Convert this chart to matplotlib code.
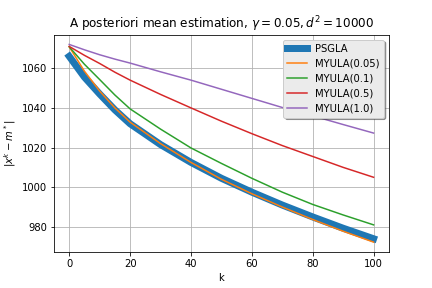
import numpy as np
import matplotlib
matplotlib.use("Agg")
import matplotlib.pyplot as plt

k = [0, 5, 10, 15, 20, 30, 40, 50, 60, 70, 80, 90, 100]

psgla = [1066.0, 1055.5, 1047.0, 1039.0, 1032.0, 1021.5, 1012.5, 1004.5,
         997.5, 991.0, 985.0, 979.3, 974.0]
myula_005 = [1070.8, 1058.5, 1048.5, 1040.0, 1032.8, 1022.0, 1012.5, 1004.0,
             996.7, 990.0, 983.7, 977.8, 972.3]
myula_01 = [1070.8, 1062.0, 1054.3, 1046.5, 1039.5, 1029.3, 1019.8, 1012.0,
            1004.5, 997.5, 991.3, 986.0, 981.0]
myula_05 = [1071.0, 1066.5, 1062.4, 1058.0, 1054.0, 1046.8, 1040.0, 1033.3,
            1027.0, 1021.0, 1015.5, 1010.0, 1005.0]
myula_10 = [1072.0, 1069.3, 1066.8, 1064.6, 1062.6, 1058.2, 1054.0, 1049.4,
            1044.8, 1040.2, 1036.0, 1031.6, 1027.3]

series = [
    ("MYULA(0.05)", myula_005),
    ("MYULA(0.1)", myula_01),
    ("MYULA(0.5)", myula_05),
    ("MYULA(1.0)", myula_10),
]

fig, ax = plt.subplots(figsize=(6, 4), dpi=72)
fig.subplots_adjust(bottom=0.125)

ax.plot(k, psgla, linewidth=7, label="PSGLA")
for name, vals in series:
    ax.plot(k, vals, linewidth=1.5, label=name)

ax.set_title(r"A posteriori mean estimation, $\gamma = 0.05, d^2 = 10000$")
ax.set_xlabel("k")
ax.set_ylabel(r"$|x^k - m^*|$")
ax.grid(True)
leg = ax.legend(loc="upper right", shadow=True, facecolor="#ebebeb",
                framealpha=1.0)

plt.savefig("out.png", dpi=72)
